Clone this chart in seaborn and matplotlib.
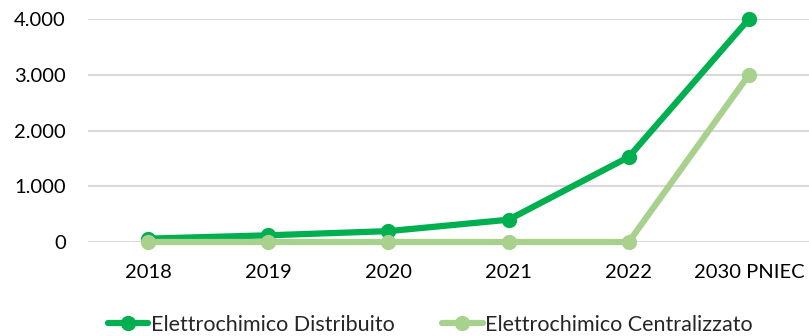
import matplotlib
matplotlib.use("Agg")
import matplotlib.pyplot as plt
import matplotlib.ticker as mticker
from matplotlib.lines import Line2D
import seaborn as sns
import pandas as pd

categories = ["2018", "2019", "2020", "2021", "2022", "2030 PNIEC"]
distribuito = [60, 120, 195, 400, 1525, 4000]
centralizzato = [0, 0, 0, 0, 0, 3000]
series_names = ["Elettrochimico Distribuito", "Elettrochimico Centralizzato"]
colors = ["#00B050", "#A9D18E"]

df = pd.DataFrame({
    "anno": categories * 2,
    "valore": distribuito + centralizzato,
    "serie": [series_names[0]] * len(categories) + [series_names[1]] * len(categories),
})

sns.set_theme(style="white")
plt.rcParams["font.family"] = ["Lato", "DejaVu Sans"]

fig = plt.figure(figsize=(8.09, 3.36), dpi=100)
ax = fig.add_axes([88 / 809, 1 - 242 / 336, 721 / 809, 223 / 336])

sns.lineplot(data=df, x="anno", y="valore", hue="serie", palette=colors,
             sort=False, marker="o", markersize=11, markeredgewidth=0,
             linewidth=4.5, ax=ax, clip_on=False, legend=False)

# the second series is drawn over the first
for line, z in zip(ax.lines, [3, 4]):
    line.set_zorder(z)

ax.set_ylim(0, 4000)
ax.set_xlim(-0.5, len(categories) - 0.5)
ax.set_yticks([0, 1000, 2000, 3000, 4000])
ax.yaxis.set_major_formatter(mticker.FuncFormatter(lambda v, p: f"{int(v):,}".replace(",", ".")))
ax.grid(axis="y", color="#D9D9D9", linewidth=1.5, zorder=0)
ax.set_axisbelow(True)
for s in ax.spines.values():
    s.set_visible(False)
ax.set_xlabel("")
ax.set_ylabel("")
ax.tick_params(axis="both", length=0, labelsize=14.5, colors="#000000")
ax.tick_params(axis="x", pad=16)
ax.tick_params(axis="y", pad=16)

handles = [Line2D([], [], color=c, linewidth=4.5, marker="o", markersize=11, markeredgewidth=0)
           for c in colors]
fig.legend(handles, series_names, loc="center", bbox_to_anchor=(430 / 809, 1 - 325 / 336),
           ncol=2, frameon=False, fontsize=15.5, handlelength=1.9, handletextpad=0.1,
           columnspacing=2.2)

fig.savefig("out.png", dpi=100)
